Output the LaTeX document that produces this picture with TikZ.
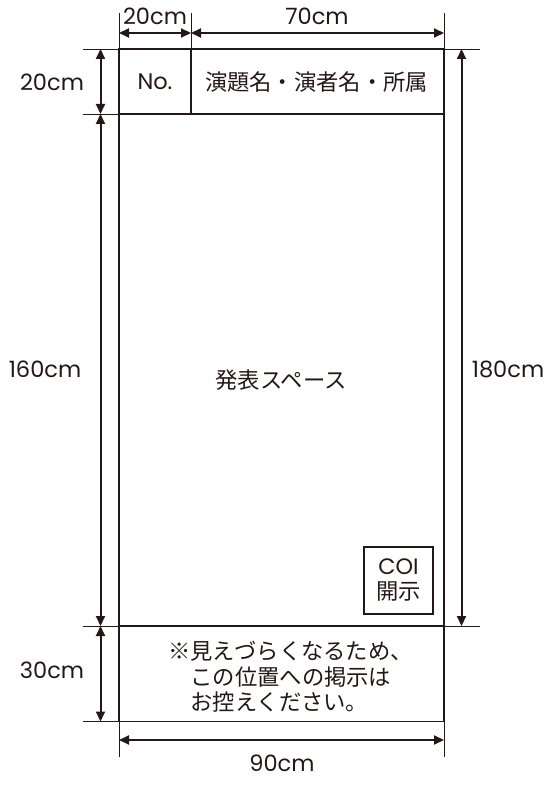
\documentclass[tikz,border=0pt]{standalone}
\usepackage{fontspec}
\setmainfont{Poppins}
\newfontfamily\jp{Noto Sans CJK JP}
\usetikzlibrary{arrows.meta}
\definecolor{ink}{HTML}{231815}
\tikzset{
  frame/.style={draw=ink, line width=1.9pt},
  ext/.style={draw=ink, line width=0.9pt},
  dimline/.style={draw=ink, line width=2pt, {Triangle[length=10pt,width=9pt]}-{Triangle[length=10pt,width=9pt]}},
  lbl/.style={text=ink, inner sep=0pt, font=\fontsize{22.5}{25}\selectfont},
  jlbl/.style={text=ink, inner sep=0pt, font=\fontsize{22.3}{25.5}\selectfont\jp},
}
\begin{document}
\begin{tikzpicture}[x=1pt,y=-1pt]
\useasboundingbox[fill=white] (0,0) rectangle (556,786);
% frame corners
\coordinate (TL) at (119,49);
\coordinate (TR) at (444,49);
\coordinate (HL) at (119,114);
\coordinate (HR) at (444,114);
\coordinate (BL) at (119,626);
\coordinate (BR) at (444,626);
\coordinate (FL) at (119,721.5);
\coordinate (FR) at (444,721.5);
\coordinate (DT) at (191,49);
\coordinate (DB) at (191,114);
% extension line ends
\coordinate (eT1) at (119,13);
\coordinate (eT2) at (191,13);
\coordinate (eT3) at (444,13);
\coordinate (eL1) at (83,49);
\coordinate (eL2) at (83,114);
\coordinate (eL3) at (83,626);
\coordinate (eL4) at (83,721.5);
\coordinate (eR1) at (480,49);
\coordinate (eR2) at (480,626);
\coordinate (eB1) at (119,757);
\coordinate (eB2) at (444,757);
% dimension line ends
\coordinate (dT1) at (119,33);
\coordinate (dT2) at (191,33);
\coordinate (dT3) at (444,33);
\coordinate (dL1) at (100.5,49);
\coordinate (dL2) at (100.5,114);
\coordinate (dL3) at (100.5,626);
\coordinate (dL4) at (100.5,721.5);
\coordinate (dR1) at (461.5,49);
\coordinate (dR2) at (461.5,626);
\coordinate (dB1) at (119,740);
\coordinate (dB2) at (444,740);
% COI box
\coordinate (C1) at (364,547);
\coordinate (C2) at (433,614);

% extension lines
\draw[ext] (eT1) -- (TL);
\draw[ext] (eT2) -- (DT);
\draw[ext] (eT3) -- (TR);
\draw[ext] (eL1) -- (TL);
\draw[ext] (eL2) -- (HL);
\draw[ext] (eL3) -- (BL);
\draw[ext] (eL4) -- (FL);
\draw[ext] (TR) -- (eR1);
\draw[ext] (BR) -- (eR2);
\draw[ext] (FL) -- (eB1);
\draw[ext] (FR) -- (eB2);

% frame
\draw[frame] (TL) rectangle (FR);
\draw[frame] (HL) -- (HR);
\draw[frame] (BL) -- (BR);
\draw[frame] (DT) -- (DB);
\draw[frame] (C1) rectangle (C2);

% dimension lines
\draw[dimline] (dT1) -- (dT2);
\draw[dimline] (dT2) -- (dT3);
\draw[dimline] (dL1) -- (dL2);
\draw[dimline] (dL2) -- (dL3);
\draw[dimline] (dL3) -- (dL4);
\draw[dimline] (dR1) -- (dR2);
\draw[dimline] (dB1) -- (dB2);

% dimension labels
\node[lbl] (w20) at (155,16) {20cm};
\node[lbl] (w70) at (317,16) {70cm};
\node[lbl] (h20) at (52,82) {20cm};
\node[lbl] (h160) at (45,369) {160cm};
\node[lbl] (h30) at (52,670) {30cm};
\node[lbl] (h180) at (508,369) {180cm};
\node[lbl] (w90) at (282,763) {90cm};

% contents
\node[lbl] (no) at (155,82) {No.};
\node[jlbl] (title) at (316.5,82) {演題名・演者名・所属};
\node[jlbl] (space) at (281,380) {発表スペース};
\node[jlbl, align=center] (coi) at (398.5,580) {{\fontspec{Poppins}COI}\\開示};
\node[jlbl, align=left, anchor=west] (note) at (168,677) {※見えづらくなるため、\\\hspace*{1em}この位置への掲示は\\\hspace*{1em}お控えください。};
\end{tikzpicture}
\end{document}
